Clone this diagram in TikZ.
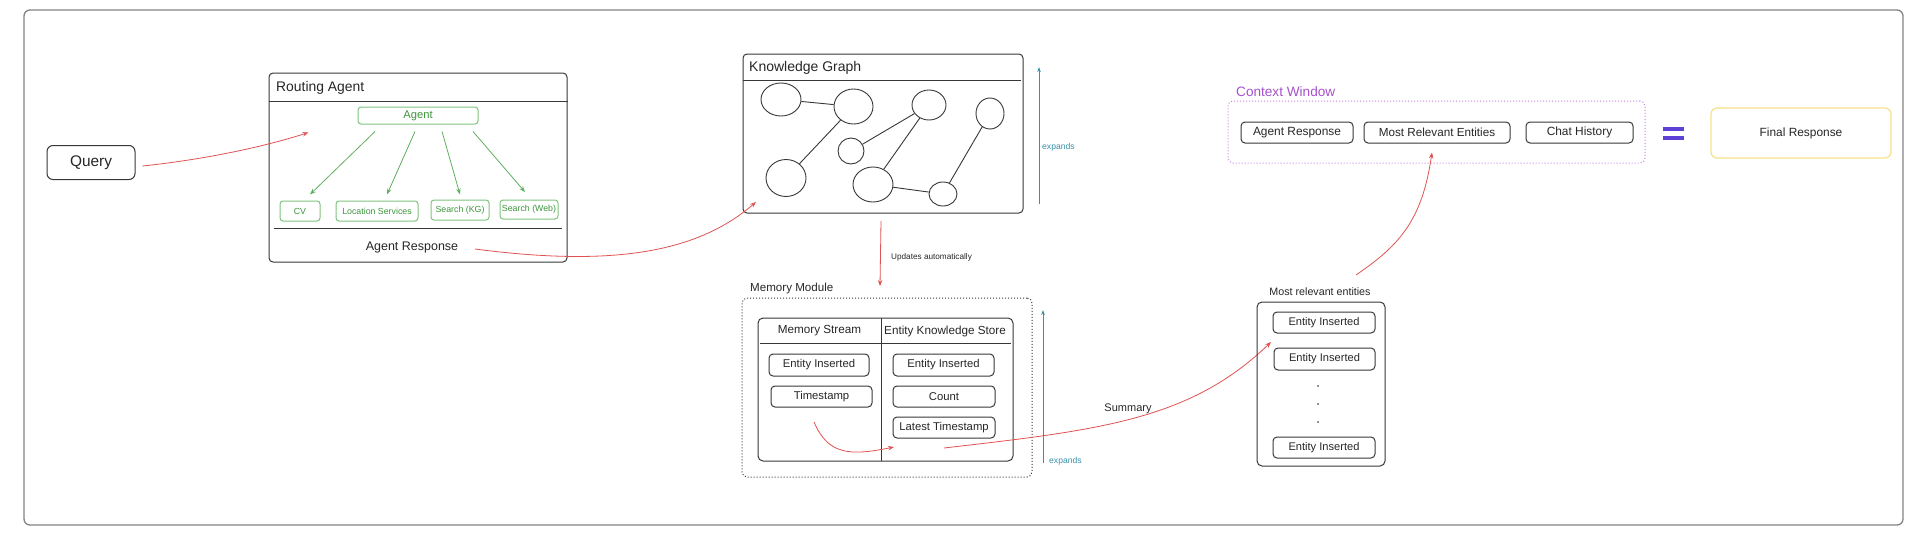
\documentclass[tikz,border=0pt]{standalone}
\usepackage{fontspec}
\setmainfont{Liberation Sans}
\usetikzlibrary{arrows.meta,calc,shapes.geometric}
\definecolor{redc}{RGB}{224,82,82}
\definecolor{greenb}{RGB}{125,195,125}
\definecolor{greent}{RGB}{60,150,60}
\definecolor{greena}{RGB}{95,175,95}
\definecolor{tealc}{RGB}{55,145,170}
\definecolor{purp}{RGB}{165,80,205}
\definecolor{purpb}{RGB}{195,130,225}
\definecolor{eqc}{RGB}{95,65,215}
\definecolor{yel}{RGB}{246,224,135}
\definecolor{dk}{RGB}{55,55,55}
\definecolor{framec}{RGB}{130,130,130}
\newcommand\pxsize[1]{\fontsize{#1}{#1}\selectfont}
\begin{document}
\begin{tikzpicture}[x=1pt,y=-1pt,
  box/.style={draw=dk, line width=1pt, rounded corners=4pt, inner sep=0pt, align=center, text=black!85},
  gbox/.style={draw=greenb, line width=1pt, rounded corners=3pt, inner sep=0pt, text=greent, font=\pxsize{8.8}},
  txt/.style={inner sep=0pt, text=black!85},
  circ/.style={draw=dk, line width=0.9pt, ellipse, inner sep=0pt},
  redarrow/.style={draw=redc, line width=0.8pt, -{Stealth[length=6pt,width=4.5pt]}},
  greenarrow/.style={draw=greena, line width=0.8pt, -{Stealth[length=6pt,width=4.5pt]}},
  tealarrow/.style={draw=tealc, line width=1pt, -{Stealth[length=5pt,width=3.5pt]}},
  edge/.style={draw=dk, line width=0.9pt}
]
\useasboundingbox (0,0) rectangle (1920,538);
% outer frame
\draw[framec, line width=1.3pt, rounded corners=6pt] (24,10) rectangle (1903,525);

% Query
\node[box, rounded corners=6pt, minimum width=88pt, minimum height=34pt, font=\pxsize{15.4}] (query) at (91,162.5) {Query};

% Routing agent
\node[box, minimum width=298pt, minimum height=189pt] (routing) at (418,167.5) {};
\draw[dk, line width=1pt] (routing.west |- 0,101) -- (routing.east |- 0,101);
\draw[dk, line width=1pt] (274,228) -- (562,228);
\node[txt, anchor=west, font=\pxsize{13.9}] (rtitle) at (276,88) {Routing Agent};
\node[gbox, minimum width=120pt, minimum height=17pt, font=\pxsize{11.2}] (agentg) at (418,115.5) {Agent};
\node[gbox, minimum width=40pt, minimum height=20pt] (cv) at (300,211) {CV};
\node[gbox, minimum width=82pt, minimum height=20pt] (loc) at (377,211) {Location Services};
\node[gbox, minimum width=58pt, minimum height=20pt] (skg) at (460,210) {Search (KG)};
\node[gbox, minimum width=58pt, minimum height=19pt] (sweb) at (529,209.5) {Search (Web)};
\node[txt, font=\pxsize{12.5}] (rar) at (412,247) {Agent Response};
\draw[greenarrow] ($(agentg.south)+(-43,7)$) -- ($(cv.north)+(10,-6)$);
\draw[greenarrow] ($(agentg.south)+(-3,7)$) -- ($(loc.north)+(10,-6)$);
\draw[greenarrow] ($(agentg.south)+(24,7)$) -- ($(skg.north)+(0,-5)$);
\draw[greenarrow] ($(agentg.south)+(55,7)$) -- ($(sweb.north)+(-4,-7.5)$);

% Query -> routing
\coordinate (qa) at ($(query.east)+(7,3.5)$);
\coordinate (qb) at ($(routing.north west)+(40,60)$);
\draw[redarrow] (qa) .. controls (200,160) and (260,148) .. (qb);

% Knowledge graph
\node[box, minimum width=280pt, minimum height=159pt] (kg) at (883,133.5) {};
\draw[dk, line width=1pt] (kg.west |- 0,80) -- (1021,80);
\node[txt, anchor=west, font=\pxsize{14}] (kgtitle) at (749,68) {Knowledge Graph};
\node[circ, minimum width=40pt, minimum height=33pt] (c1) at (781,99.5) {};
\node[circ, minimum width=39pt, minimum height=35pt] (c2) at (853.5,106.5) {};
\node[circ, minimum width=34pt, minimum height=30pt] (c3) at (929,105) {};
\node[circ, minimum width=28pt, minimum height=31pt] (c4) at (990,113.5) {};
\node[circ, minimum width=26pt, minimum height=26pt] (c5) at (851,151) {};
\node[circ, minimum width=40pt, minimum height=37pt] (c6) at (786,178) {};
\node[circ, minimum width=40pt, minimum height=35pt] (c7) at (873,184.5) {};
\node[circ, minimum width=28pt, minimum height=24pt] (c8) at (943,194) {};
\draw[edge] (c1) -- (c2);
\draw[edge] (c2) -- (c6);
\draw[edge] (c3) -- (c5);
\draw[edge] (c3) -- (c7);
\draw[edge] (c7) -- (c8);
\draw[edge] (c4) -- (c8);

% Agent Response -> KG
\coordinate (ara) at (475,249);
\coordinate (arb) at (756,202);
\draw[redarrow] (ara) .. controls (620,268) and (700,250) .. (arb);

% expands (KG)
\coordinate (ex1a) at (1039,204);
\coordinate (ex1b) at (1039,67);
\draw[tealarrow] (ex1a) -- (ex1b);
\node[txt, anchor=west, text=tealc, font=\pxsize{8.6}] (ex1t) at (1042,147) {expands};

% Updates automatically
\coordinate (upa) at (881,221);
\coordinate (upb) at (880,286);
\draw[redarrow] (upa) -- (upb);
\node[txt, anchor=west, font=\pxsize{8.2}] (uptxt) at (891,257) {Updates automatically};

% Memory module
\node[txt, anchor=west, font=\pxsize{11.6}] (mmtitle) at (750,288) {Memory Module};
\node[draw=dk, line width=1pt, dotted, rounded corners=5pt, minimum width=290pt, minimum height=179pt, inner sep=0pt] (mm) at (887,387.5) {};
\node[box, rounded corners=5pt, minimum width=255pt, minimum height=143pt] (tbl) at (885.5,389.5) {};
\draw[dk, line width=1pt] (760,343) -- (1011,343);
\draw[dk, line width=1pt] (881,318) -- (881,461);
\node[txt, font=\pxsize{11.7}] (msh) at (819.5,331) {Memory Stream};
\node[txt, font=\pxsize{11.7}] (eksh) at (945,331) {Entity Knowledge Store};
\node[box, minimum width=100pt, minimum height=22pt, font=\pxsize{11.3}] (mse) at (819,365) {Entity Inserted};
\node[box, minimum width=101pt, minimum height=21pt, font=\pxsize{11.3}] (mst) at (821.5,396.5) {Timestamp};
\node[box, minimum width=101pt, minimum height=22pt, font=\pxsize{11.3}] (eke) at (943.5,365) {Entity Inserted};
\node[box, minimum width=102pt, minimum height=21pt, font=\pxsize{11.3}] (ekc) at (944,396.5) {Count};
\node[box, minimum width=102pt, minimum height=21pt, font=\pxsize{11.3}] (ekl) at (944,427.5) {Latest Timestamp};
\coordinate (ima) at (814,422);
\coordinate (imb) at (894,447);
\draw[redarrow] (ima) .. controls (828,455) and (850,456) .. (imb);

% expands (memory)
\coordinate (ex2a) at (1043,463);
\coordinate (ex2b) at (1043,310);
\draw[tealarrow] (ex2a) -- (ex2b);
\node[txt, anchor=west, text=tealc, font=\pxsize{8.6}] (ex2t) at (1049,461) {expands};

% Summary arrow
\coordinate (sma) at (944,448);
\coordinate (smb) at (1271,342);
\draw[redarrow] (sma) .. controls (1100,430) and (1190,420) .. (smb);
\node[txt, font=\pxsize{11}] (smt) at (1128,409) {Summary};

% Most relevant entities
\node[txt, font=\pxsize{10.7}] (mret) at (1320,292) {Most relevant entities};
\node[box, rounded corners=5pt, minimum width=128pt, minimum height=164pt] (mre) at (1321,384) {};
\node[box, minimum width=102pt, minimum height=21pt, font=\pxsize{11.1}] (me1) at (1324,322.5) {Entity Inserted};
\node[box, minimum width=101pt, minimum height=22pt, font=\pxsize{11.1}] (me2) at (1324.5,359) {Entity Inserted};
\node[box, minimum width=102pt, minimum height=21pt, font=\pxsize{11.1}] (me3) at (1324,447.5) {Entity Inserted};
\fill[black!85] (1318,386) circle (0.9pt) (1318,404) circle (0.9pt) (1318,422) circle (0.9pt);

% Context window
\node[txt, anchor=west, text=purp, font=\pxsize{13.6}] (cwt) at (1236,92) {Context Window};
\node[draw=purpb, line width=1pt, dotted, rounded corners=5pt, minimum width=417pt, minimum height=62pt, inner sep=0pt] (cw) at (1436.5,132) {};
\node[box, minimum width=112pt, minimum height=21pt, font=\pxsize{11.9}] (cwa) at (1297,132.5) {Agent Response};
\node[box, minimum width=146pt, minimum height=21pt, font=\pxsize{11.7}] (cwm) at (1437,132.5) {Most Relevant Entities};
\node[box, minimum width=107pt, minimum height=21pt, font=\pxsize{11.9}] (cwc) at (1579.5,132.5) {Chat History};
\coordinate (cxa) at (1356,275);
\coordinate (cxb) at ($(cwm.south)+(-5,9)$);
\draw[redarrow] (cxa) .. controls (1400,245) and (1422,220) .. (cxb);

% equals
\draw[eqc, line width=3.2pt] (1663,129) -- (1684,129) (1663,138) -- (1684,138);

% Final response
\node[draw=yel, line width=1.2pt, rounded corners=6pt, minimum width=180pt, minimum height=50pt, inner sep=0pt, font=\pxsize{11.9}, text=black!85] (fr) at (1801,133) {Final Response};
\end{tikzpicture}
\end{document}
